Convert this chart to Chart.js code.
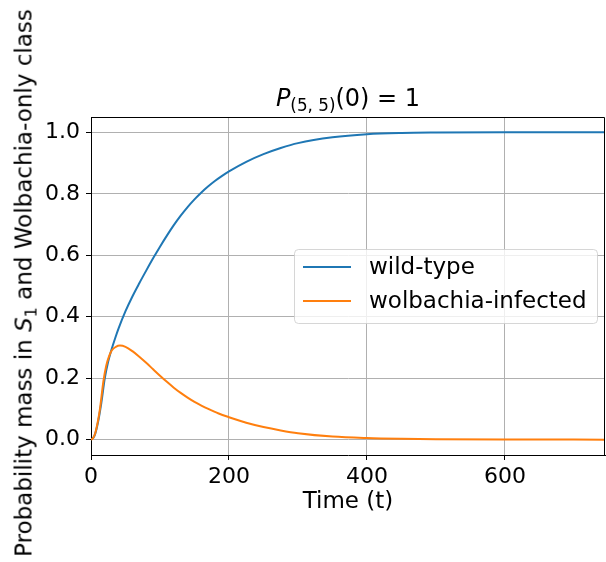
<!DOCTYPE html>
<html>
<head>
<meta charset="utf-8">
<script src="https://cdn.jsdelivr.net/npm/chart.js@4.4.1/dist/chart.umd.min.js"></script>
<style>
  html, body { margin: 0; padding: 0; background: #fff; }
  #wrap { position: relative; width: 606px; height: 562px; font-family: 'DejaVu Sans', sans-serif; color: #000; }
  #chart { position: absolute; left: 0; top: 0; }
  .sub { font-size: 70%; position: relative; top: 0.3em; line-height: 0; }
  #title { position: absolute; left: 91px; width: 514px; top: 86px; text-align: center; font-size: 24px; line-height: 24px; white-space: nowrap; }
  #ylabel { position: absolute; left: 24px; top: 283px; font-size: 23px; line-height: 23px; white-space: nowrap;
            transform: translate(-50%, -50%) rotate(-90deg); }
  i { font-style: oblique; }
</style>
</head>
<body>
<div id="wrap">
  <canvas id="chart" width="606" height="562"></canvas>
  <div id="title"><i>P</i><span class="sub">(5, 5)</span>(0) = 1</div>
  <div id="ylabel">Probability mass in <i>S</i><span class="sub">1</span> and Wolbachia-only class</div>
</div>
<script>
'use strict';

// ── Datos ──────────────────────────────────────────────────────────────
const wildT = [0, 5, 10, 15, 20, 25, 30, 35, 40, 50, 60, 70, 80, 90, 100, 110, 120, 130, 140, 150, 160,
               170, 180, 190, 200, 225, 250, 275, 300, 350, 400, 450, 500, 600, 750];
const wildP = [0, 0.012, 0.055, 0.12, 0.20, 0.255, 0.295, 0.33, 0.362, 0.418, 0.466, 0.509, 0.55, 0.59, 0.628,
               0.664, 0.698, 0.729, 0.757, 0.782, 0.8045, 0.8245, 0.8425, 0.8585, 0.873, 0.904, 0.929, 0.949,
               0.965, 0.984, 0.994, 0.998, 0.9993, 1.0, 1.0];

const wolbT = [0, 3, 6, 10, 13, 18, 22, 26, 30, 36, 42, 50, 60, 70, 80, 90, 100, 110, 120, 130, 140, 150,
               160, 170, 185, 200, 225, 250, 275, 300, 350, 400, 450, 500, 600, 750];
const wolbP = [0, 0.005, 0.02, 0.06, 0.10, 0.19, 0.24, 0.27, 0.29, 0.302, 0.306, 0.302, 0.288, 0.27, 0.25,
               0.229, 0.208, 0.188, 0.169, 0.152, 0.137, 0.123, 0.111, 0.100, 0.085, 0.073, 0.055, 0.041,
               0.030, 0.021, 0.010, 0.005, 0.0025, 0.0012, 0.0003, 0];

const xTicks = [0, 200, 400, 600];
const yTicks = [0, 0.2, 0.4, 0.6, 0.8, 1.0];

const C = { blue: '#1f77b4', orange: '#ff7f0e', grid: '#b0b0b0', axis: '#000' };
const FONT = "'DejaVu Sans', sans-serif";

const toXY = (ts, ps) => ts.map((t, i) => ({ x: t, y: ps[i] }));

// ── Marco superior/derecho + leyenda dentro del área ──────────────────
const framePlugin = {
  id: 'frame',
  afterDraw(chart) {
    const { ctx, chartArea: a } = chart;
    ctx.save();
    ctx.strokeStyle = C.axis;
    ctx.lineWidth = 1;
    ctx.beginPath();
    ctx.moveTo(Math.round(a.left) + 0.5, Math.round(a.top) + 0.5);
    ctx.lineTo(Math.round(a.right) - 0.5, Math.round(a.top) + 0.5);
    ctx.lineTo(Math.round(a.right) - 0.5, Math.round(a.bottom) + 0.5);
    ctx.stroke();

    // leyenda
    const bx = 294, by = 249, bw = 303, bh = 74, r = 4;
    ctx.fillStyle = 'rgba(255,255,255,0.8)';
    ctx.strokeStyle = 'rgba(204,204,204,0.8)';
    ctx.beginPath();
    ctx.roundRect(bx + 0.5, by + 0.5, bw, bh, r);
    ctx.fill();
    ctx.stroke();

    ctx.font = `23px ${FONT}`;
    ctx.textBaseline = 'middle';
    ctx.textAlign = 'left';
    chart.data.datasets.forEach((ds, i) => {
      const y = by + 18 + i * 34;
      ctx.strokeStyle = ds.borderColor;
      ctx.lineWidth = 2;
      ctx.beginPath();
      ctx.moveTo(bx + 9, y);
      ctx.lineTo(bx + 57, y);
      ctx.stroke();
      ctx.fillStyle = '#000';
      ctx.fillText(ds.label, bx + 75, y + 1);
    });
    ctx.restore();
  },
};

new Chart(document.getElementById('chart'), {
  type: 'line',
  data: {
    datasets: [
      {
        label: 'wild-type',
        data: toXY(wildT, wildP),
        borderColor: C.blue,
        borderWidth: 2,
        pointRadius: 0,
        cubicInterpolationMode: 'monotone',
        order: 1,
      },
      {
        label: 'wolbachia-infected',
        data: toXY(wolbT, wolbP),
        borderColor: C.orange,
        borderWidth: 2,
        pointRadius: 0,
        cubicInterpolationMode: 'monotone',
        order: 0,
      },
    ],
  },
  options: {
    responsive: false,
    animation: false,
    layout: { padding: { top: 117, right: 1, left: 0, bottom: 0 } },
    plugins: { legend: { display: false }, tooltip: { enabled: false } },
    scales: {
      x: {
        type: 'linear',
        min: 0,
        max: 745,
        afterBuildTicks: s => { s.ticks = xTicks.map(v => ({ value: v })); },
        afterFit: s => { s.height = 107; },
        ticks: { color: '#000', font: { family: FONT, size: 22 }, padding: 4, maxRotation: 0 },
        grid: { color: C.grid, lineWidth: 1, tickLength: 5, tickColor: C.axis },
        border: { display: true, color: C.axis, width: 1 },
        title: { display: true, text: 'Time (t)', color: '#000', font: { family: FONT, size: 23 }, padding: { top: 0, bottom: 46 } },
      },
      y: {
        type: 'linear',
        min: -0.05,
        max: 1.05,
        afterBuildTicks: s => { s.ticks = yTicks.map(v => ({ value: v })); },
        afterFit: s => { s.width = 91; },
        ticks: { color: '#000', font: { family: FONT, size: 22 }, padding: 6, callback: v => v.toFixed(1) },
        grid: { color: C.grid, lineWidth: 1, tickLength: 5, tickColor: C.axis },
        border: { display: true, color: C.axis, width: 1 },
      },
    },
  },
  plugins: [framePlugin],
});
</script>
</body>
</html>
